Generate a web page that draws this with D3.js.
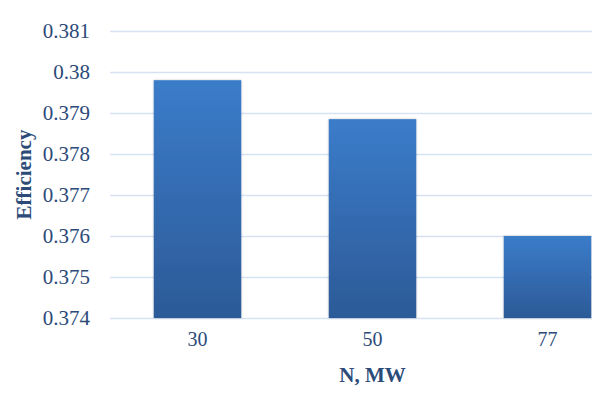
<!DOCTYPE html>
<html>
<head>
<meta charset="utf-8">
<script src="https://cdn.jsdelivr.net/npm/d3@7"></script>
<style>
  html, body { margin: 0; padding: 0; background: #fff; }
  svg { display: block; }
</style>
</head>
<body>
<svg id="chart" width="592" height="394"></svg>
<script>
// Unit output (MW) and the corresponding cycle efficiency
const categories = ["30", "50", "77"];
const efficiency = [0.3798, 0.37885, 0.3760];
const yTicks = [0.374, 0.375, 0.376, 0.377, 0.378, 0.379, 0.38, 0.381];
const xTitle = "N, MW";
const yTitle = "Efficiency";

const svg = d3.select("#chart");
const W = 592, H = 394;
const plot = { left: 110, right: 635, top: 31, bottom: 318 };
const textColor = "#2c4b79";
const font = "'Liberation Serif', 'Times New Roman', serif";

const x = d3.scaleBand()
  .domain(categories)
  .range([plot.left, plot.right])
  .paddingInner(0.5)
  .paddingOuter(0.25);

const y = d3.scaleLinear()
  .domain([0.374, 0.381])
  .range([plot.bottom, plot.top]);

// Vertical gradient for the bars
const defs = svg.append("defs");
const grad = defs.append("linearGradient")
  .attr("id", "barGrad")
  .attr("x1", 0).attr("y1", 0).attr("x2", 0).attr("y2", 1);
grad.append("stop").attr("offset", "0%").attr("stop-color", "#3b7cca");
grad.append("stop").attr("offset", "100%").attr("stop-color", "#2c5a97");

const shadow = defs.append("filter").attr("id", "barShadow")
  .attr("x", "-10%").attr("y", "-10%").attr("width", "120%").attr("height", "120%");
shadow.append("feDropShadow")
  .attr("dx", 0).attr("dy", 0).attr("stdDeviation", 1.2)
  .attr("flood-color", "#000").attr("flood-opacity", 0.25);

// Horizontal gridlines via the y axis
const yAxis = d3.axisLeft(y)
  .tickValues(yTicks)
  .tickSize(-(W - plot.left))
  .tickPadding(20)
  .tickFormat(d => d3.format("")(+d.toFixed(3)));

const gy = svg.append("g")
  .attr("transform", `translate(${plot.left},0)`)
  .call(yAxis);
gy.select(".domain").remove();
gy.selectAll(".tick line")
  .attr("stroke", "#d6e2f1")
  .attr("stroke-width", 1.5);
gy.selectAll(".tick text")
  .attr("fill", textColor)
  .attr("font-family", font)
  .attr("font-size", "21px");

// Bars
svg.append("g")
  .selectAll("rect")
  .data(efficiency)
  .join("rect")
  .attr("x", (d, i) => x(categories[i]))
  .attr("y", d => y(d))
  .attr("width", x.bandwidth())
  .attr("height", d => y(0.374) - y(d))
  .attr("fill", "url(#barGrad)")
  .attr("filter", "url(#barShadow)");

// Category axis labels
const xAxis = d3.axisBottom(x).tickSize(0).tickPadding(14);
const gx = svg.append("g")
  .attr("transform", `translate(0,${plot.bottom})`)
  .call(xAxis);
gx.select(".domain").remove();
gx.selectAll(".tick text")
  .attr("fill", textColor)
  .attr("font-family", font)
  .attr("font-size", "20px");

// Axis titles
svg.append("text")
  .attr("x", x("50") + x.bandwidth() / 2)
  .attr("y", 382)
  .attr("text-anchor", "middle")
  .attr("fill", textColor)
  .attr("font-family", font)
  .attr("font-weight", "bold")
  .attr("font-size", "21px")
  .text(xTitle);

svg.append("text")
  .attr("transform", `translate(31,${(plot.top + plot.bottom) / 2}) rotate(-90)`)
  .attr("text-anchor", "middle")
  .attr("fill", textColor)
  .attr("font-family", font)
  .attr("font-weight", "bold")
  .attr("font-size", "21px")
  .text(yTitle);
</script>
</body>
</html>
